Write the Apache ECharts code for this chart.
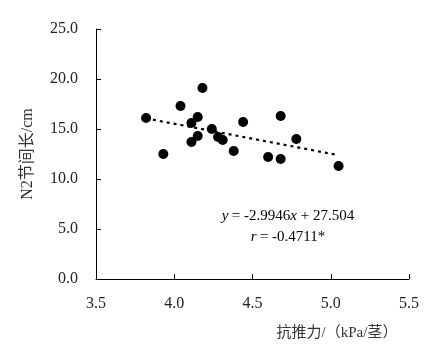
<!DOCTYPE html>
<html><head><meta charset="utf-8">
<script src="https://cdn.jsdelivr.net/npm/echarts@6/dist/echarts.min.js"></script>
<style>html,body{margin:0;padding:0;background:#fff}#c{width:440px;height:356px}</style>
</head><body><div id="c"></div>
<script>
const xValues = [3.82, 3.93, 4.04, 4.11, 4.15, 4.18, 4.11, 4.15, 4.24, 4.28, 4.31, 4.38, 4.44, 4.60, 4.68, 4.68, 4.78, 5.05];
const yValues = [16.1, 12.5, 17.3, 15.6, 16.2, 19.1, 13.7, 14.3, 15.0, 14.2, 13.9, 12.8, 15.7, 12.2, 12.0, 16.3, 14.0, 11.3];
const slope = -2.9946, intercept = 27.504;
const trendX = [3.82, 5.05];
const xTicks = ['3.5','4.0','4.5','5.0','5.5'];
const yTicks = ['0.0','5.0','10.0','15.0','20.0','25.0'];

const points = xValues.map((x,i)=>[x,yValues[i]]);
const trend = trendX.map(x=>[x, slope*x+intercept]);
const font = '"Liberation Serif","Noto Sans CJK SC",serif';
const rich = {i:{fontStyle:'italic',fontFamily:font,fontSize:15,fill:'#000'},n:{fontFamily:font,fontSize:15,fill:'#000'}};
const chart = echarts.init(document.getElementById('c'));
chart.setOption({
  animation:false,
  grid:{left:96,top:29,right:31,bottom:77},
  xAxis:{type:'value',min:3.5,max:5.5,interval:0.5,
    axisLine:{lineStyle:{color:'#000',width:1}},
    axisTick:{inside:true,length:5,lineStyle:{color:'#000'}},
    axisLabel:{color:'#222',fontFamily:font,fontSize:16,margin:17,formatter:v=>xTicks[Math.round((v-3.5)/0.5)]},
    splitLine:{show:false}},
  yAxis:{type:'value',min:0,max:25,interval:5,
    axisLine:{show:true,lineStyle:{color:'#000',width:1}},
    axisTick:{show:true,inside:true,length:5,lineStyle:{color:'#000'}},
    axisLabel:{color:'#222',fontFamily:font,fontSize:16,margin:18,formatter:v=>yTicks[Math.round(v/5)]},
    splitLine:{show:false},
    name:'N2节间长/cm',nameLocation:'middle',nameGap:60,
    nameTextStyle:{color:'#333',fontFamily:font,fontSize:16}},
  series:[
    {type:'scatter',data:points,symbolSize:10,itemStyle:{color:'#000',opacity:1},z:3},
    {type:'line',data:trend,symbol:'none',lineStyle:{color:'#000',width:2.2,type:[3,4]},z:2}
  ],
  graphic:[
    {type:'text',x:288,y:216,style:{rich:rich,text:'{i|y} {n|= -2.9946}{i|x}{n| + 27.504}',textAlign:'center',textVerticalAlign:'middle'}},
    {type:'text',x:288,y:237,style:{rich:rich,text:'{i|r} {n|= -0.4711*}',textAlign:'center',textVerticalAlign:'middle'}},
    {type:'text',x:337,y:333,style:{text:'抗推力/（kPa/茎）',fontFamily:font,fontSize:15,fill:'#333',textAlign:'center',textVerticalAlign:'middle'}}
  ]
});
</script></body></html>
